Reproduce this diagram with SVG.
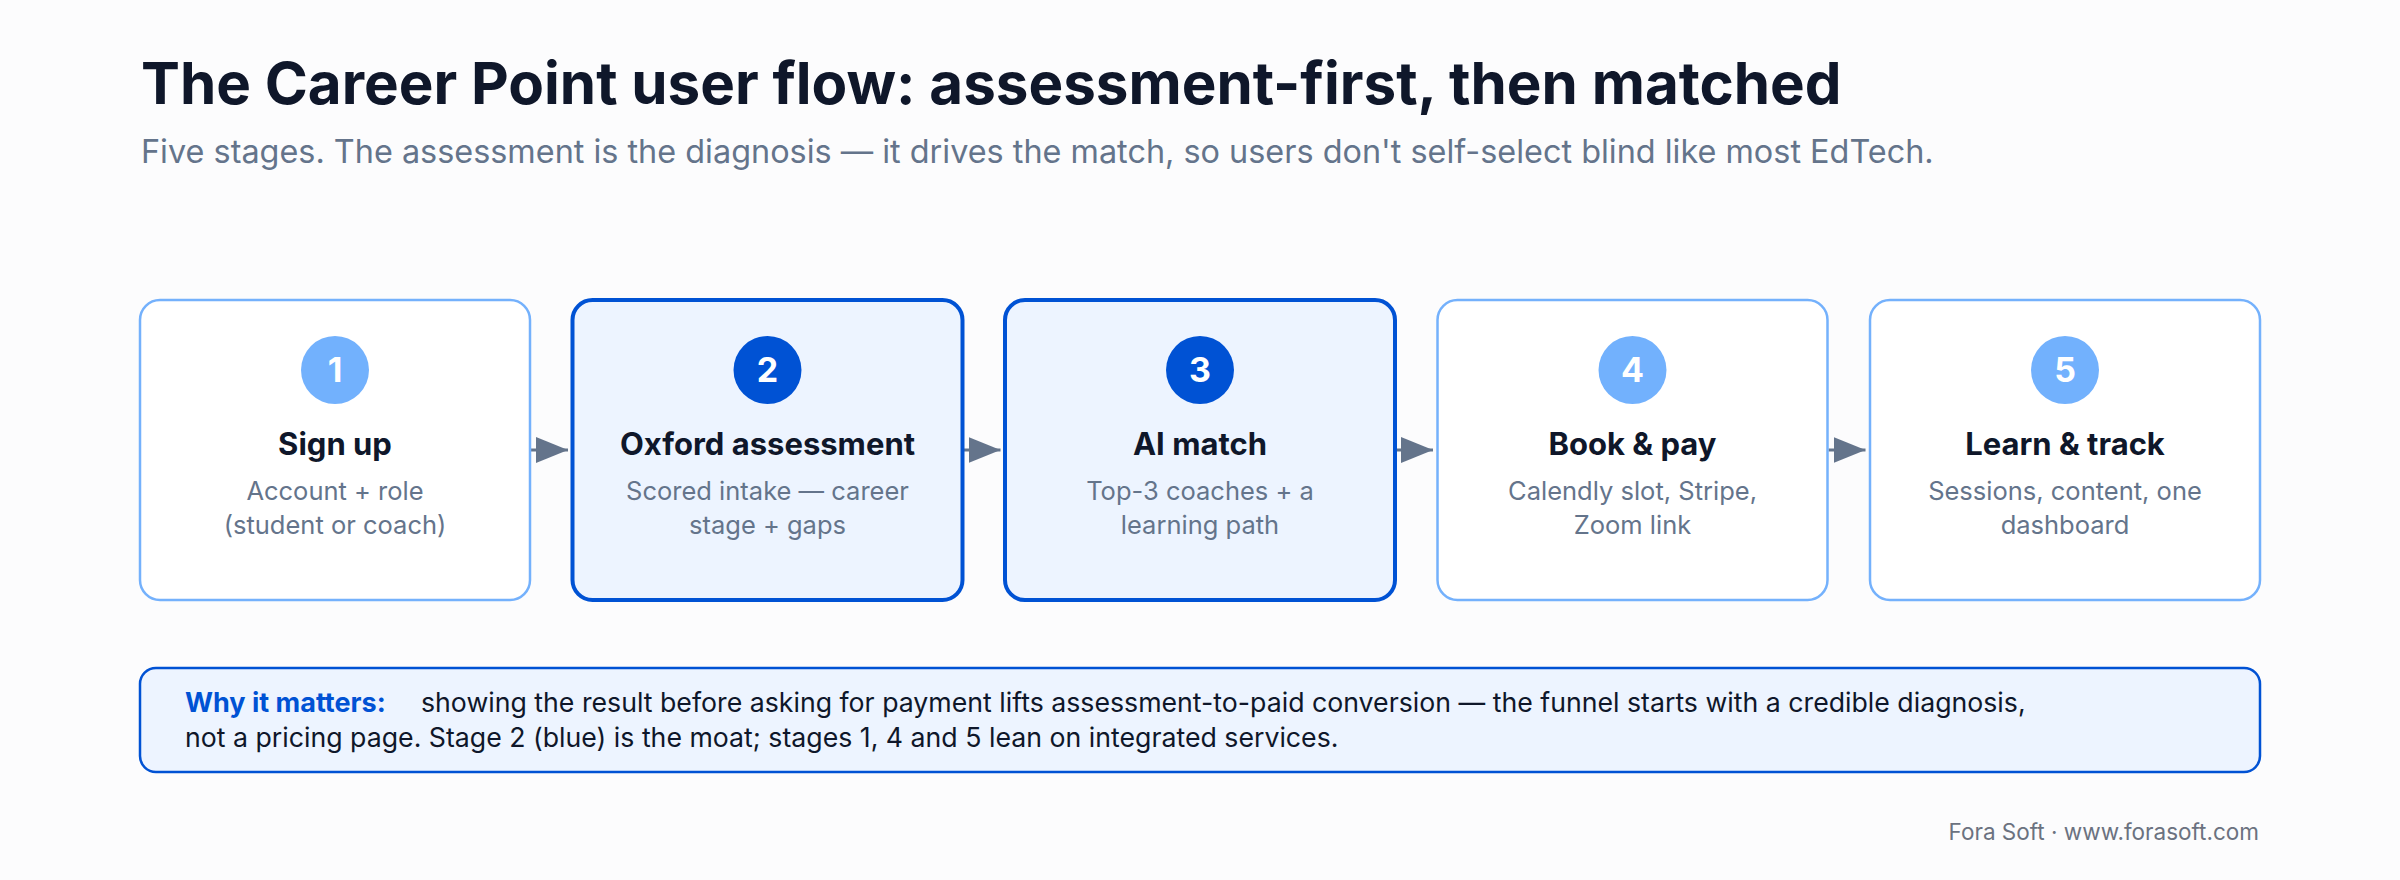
<svg xmlns="http://www.w3.org/2000/svg" width="2400" height="880" viewBox="0 0 2400 880">
<defs>
<style>
.t{font-family:Inter,"Noto Sans","Liberation Sans",sans-serif}
.title{font-size:58.3px;font-weight:700;fill:#0f172a}
.sub{font-size:32.4px;fill:#64748b}
.box{fill:#ffffff;stroke:#74b1fc;stroke-width:2.5}
.boxk{fill:#edf4ff;stroke:#0052d4;stroke-width:4}
.cl{fill:#72b1fd}
.ck{fill:#0052d4}
.num{font-size:34px;font-weight:700;fill:#ffffff;text-anchor:middle}
.h{font-size:31px;font-weight:700;fill:#0f172a;text-anchor:middle}
.d{font-size:25.5px;fill:#64748b;text-anchor:middle}
.conn{stroke:#64748b;stroke-width:3;fill:none}
.note{font-size:26.7px;fill:#0f172a}
.noteb{font-size:27px;font-weight:700;fill:#0052d4}
.foot{font-size:22.5px;fill:#6b7280;text-anchor:end}
</style>
<marker id="arr" viewBox="0 0 32 26" refX="32" refY="13" markerWidth="32" markerHeight="26" markerUnits="userSpaceOnUse" orient="auto">
<path d="M0,0 L32,13 L0,26 Z" fill="#64748b"/>
</marker>
</defs>
<rect width="2400" height="880" fill="#fcfcfd"/>
<g id="header" class="t">
<text class="title" x="141" y="104">The Career Point user flow: assessment-first, then matched</text>
<text class="sub" x="141" y="163">Five stages. The assessment is the diagnosis — it drives the match, so users don't self-select blind like most EdTech.</text>
</g>
<g id="connectors">
<line class="conn" x1="531" y1="450" x2="568" y2="450" marker-end="url(#arr)"/>
<line class="conn" x1="963.5" y1="450" x2="1000.5" y2="450" marker-end="url(#arr)"/>
<line class="conn" x1="1396" y1="450" x2="1433" y2="450" marker-end="url(#arr)"/>
<line class="conn" x1="1828.5" y1="450" x2="1865.5" y2="450" marker-end="url(#arr)"/>
</g>
<g id="stage1" class="t">
<rect class="box" x="140" y="300" width="390" height="300" rx="20"/>
<circle class="cl" cx="335" cy="370" r="34"/>
<text class="num" x="335" y="382">1</text>
<text class="h" x="335" y="455">Sign up</text>
<text class="d" x="335" y="500">Account + role</text>
<text class="d" x="335" y="534">(student or coach)</text>
</g>
<g id="stage2" class="t">
<rect class="boxk" x="572.5" y="300" width="390" height="300" rx="20"/>
<circle class="ck" cx="767.5" cy="370" r="34"/>
<text class="num" x="767.5" y="382">2</text>
<text class="h" x="767.5" y="455">Oxford assessment</text>
<text class="d" x="767.5" y="500">Scored intake — career</text>
<text class="d" x="767.5" y="534">stage + gaps</text>
</g>
<g id="stage3" class="t">
<rect class="boxk" x="1005" y="300" width="390" height="300" rx="20"/>
<circle class="ck" cx="1200" cy="370" r="34"/>
<text class="num" x="1200" y="382">3</text>
<text class="h" x="1200" y="455">AI match</text>
<text class="d" x="1200" y="500">Top-3 coaches + a</text>
<text class="d" x="1200" y="534">learning path</text>
</g>
<g id="stage4" class="t">
<rect class="box" x="1437.5" y="300" width="390" height="300" rx="20"/>
<circle class="cl" cx="1632.5" cy="370" r="34"/>
<text class="num" x="1632.5" y="382">4</text>
<text class="h" x="1632.5" y="455">Book &amp; pay</text>
<text class="d" x="1632.5" y="500">Calendly slot, Stripe,</text>
<text class="d" x="1632.5" y="534">Zoom link</text>
</g>
<g id="stage5" class="t">
<rect class="box" x="1870" y="300" width="390" height="300" rx="20"/>
<circle class="cl" cx="2065" cy="370" r="34"/>
<text class="num" x="2065" y="382">5</text>
<text class="h" x="2065" y="455">Learn &amp; track</text>
<text class="d" x="2065" y="500">Sessions, content, one</text>
<text class="d" x="2065" y="534">dashboard</text>
</g>
<g id="callout" class="t">
<rect x="140" y="668" width="2120" height="104" rx="16" fill="#edf4ff" stroke="#0052d4" stroke-width="2.5"/>
<text class="noteb" x="185" y="712">Why it matters:</text>
<text class="note" x="421" y="712">showing the result before asking for payment lifts assessment-to-paid conversion — the funnel starts with a credible diagnosis,</text>
<text class="note" x="185" y="747">not a pricing page. Stage 2 (blue) is the moat; stages 1, 4 and 5 lean on integrated services.</text>
</g>
<g id="footer" class="t">
<text class="foot" x="2259" y="840">Fora Soft · www.forasoft.com</text>
</g>
</svg>
